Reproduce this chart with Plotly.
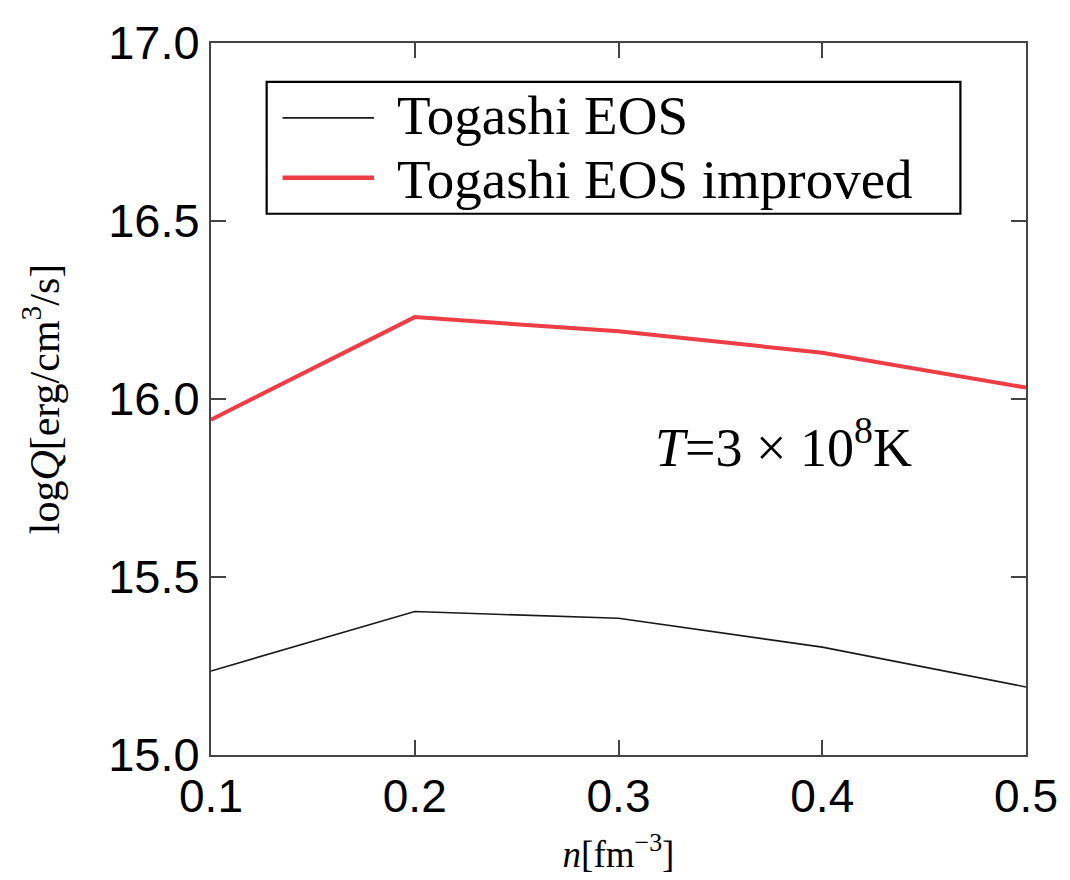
import plotly.graph_objects as go

density = [0.1, 0.2, 0.3, 0.4, 0.5]
logq_togashi = [15.236, 15.403, 15.384, 15.303, 15.191]
logq_improved = [15.942, 16.230, 16.190, 16.130, 16.032]
series_names = ["Togashi EOS", "Togashi EOS improved"]
x_ticks = [0.1, 0.2, 0.3, 0.4, 0.5]
x_tick_text = ["0.1", "0.2", "0.3", "0.4", "0.5"]
y_ticks = [15.0, 15.5, 16.0, 16.5, 17.0]
y_tick_text = ["15.0", "15.5", "16.0", "16.5", "17.0"]

black = "#1a1a1a"
red = "#ee3d44"
serif = "Liberation Serif, Times New Roman, serif"
sans = "Liberation Sans, Arial, sans-serif"

fig = go.Figure()
fig.add_trace(go.Scatter(x=density, y=logq_togashi, mode="lines", name=series_names[0],
                         line=dict(color=black, width=1.6), showlegend=False))
fig.add_trace(go.Scatter(x=density, y=logq_improved, mode="lines", name=series_names[1],
                         line=dict(color=red, width=4.0), showlegend=False))

W, H = 1070, 880
L, R, T, B = 211, 39, 43, 124
pw, ph = W - L - R, H - T - B

def px(xp):
    return (xp - L) / pw

def py(yp):
    return (H - B - yp) / ph

shapes = [
    dict(type="rect", xref="paper", yref="paper", x0=px(267), x1=px(965), y0=py(214), y1=py(82),
         line=dict(color="black", width=2.2), fillcolor="white", layer="above"),
    dict(type="line", xref="paper", yref="paper", x0=px(283), x1=px(375), y0=py(118), y1=py(118),
         line=dict(color=black, width=1.6), layer="above"),
    dict(type="line", xref="paper", yref="paper", x0=px(283), x1=px(375), y0=py(178), y1=py(178),
         line=dict(color=red, width=4.4), layer="above"),
]
annotations = [
    dict(xref="paper", yref="paper", x=px(396), y=py(116), text=series_names[0], showarrow=False,
         xanchor="left", yanchor="middle", font=dict(family=serif, size=55, color="black")),
    dict(xref="paper", yref="paper", x=px(396), y=py(180), text=series_names[1], showarrow=False,
         xanchor="left", yanchor="middle", font=dict(family=serif, size=55, color="black")),
    dict(xref="paper", yref="paper", x=px(656), y=py(444), text="<i>T</i>=3 × 10<sup>8</sup>K",
         showarrow=False, xanchor="left", yanchor="middle",
         font=dict(family=serif, size=54, color="black")),
]

fig.update_layout(
    width=W, height=H,
    margin=dict(l=L, r=R, t=T, b=B, pad=0),
    paper_bgcolor="white", plot_bgcolor="white",
    shapes=shapes, annotations=annotations,
    xaxis=dict(range=[0.1, 0.5], tickvals=x_ticks, ticktext=x_tick_text,
               ticks="inside", ticklen=15, tickwidth=1.5, tickcolor="#444",
               showline=True, linecolor="#444", linewidth=1.8, mirror="ticks",
               showgrid=False, zeroline=False,
               tickfont=dict(family=sans, size=46, color="black"),
               title=dict(text="<i>n</i>[fm<sup>−3</sup>]", standoff=20,
                          font=dict(family=serif, size=37, color="black"))),
    yaxis=dict(range=[15.0, 17.0], tickvals=y_ticks, ticktext=y_tick_text,
               ticks="inside", ticklen=15, tickwidth=1.5, tickcolor="#444",
               showline=True, linecolor="#444", linewidth=1.8, mirror="ticks",
               showgrid=False, zeroline=False,
               tickfont=dict(family=sans, size=47, color="black"),
               title=dict(text="log<i>Q</i>[erg/cm<sup>3</sup>/s]", standoff=36,
                          font=dict(family=serif, size=42, color="black"))),
)

fig.write_html("out.html")
